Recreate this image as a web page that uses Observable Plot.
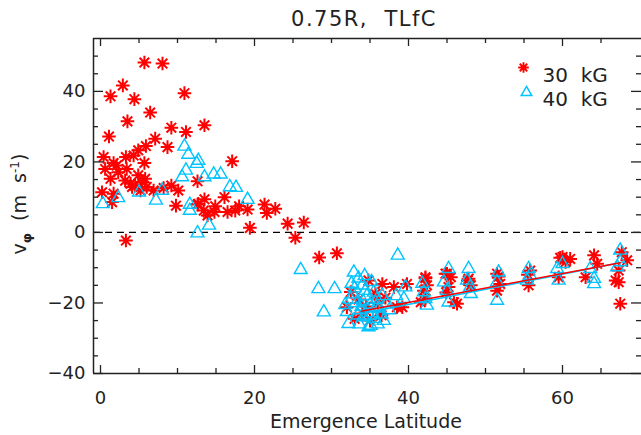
<!DOCTYPE html>
<html><head><meta charset="utf-8">
<script src="https://cdn.jsdelivr.net/npm/d3@7"></script>
<script src="https://cdn.jsdelivr.net/npm/@observablehq/plot@0.6"></script>
<style>
html,body{margin:0;padding:0;background:#fff;overflow:hidden}
svg text{white-space:pre}
</style></head><body><div id="chart"></div>
<script>
// 30 kG (red asterisks): [latitude, v_phi]
const red30 = [
[5.7,48.2],[8.05,47.9],[2.9,41.7],[1.3,38.6],[4.4,37.8],[10.9,39.5],[6.45,34],[3.5,31.5],[1.1,27.2],[9.2,29.7],
[11.1,28.5],[13.5,30.4],[7.1,26.6],[8.7,24.2],[5.9,24.5],[4.9,23.3],[4.3,21.8],[3.3,21.4],[0.4,21.4],[1.7,19.7],
[2.1,19],[5.7,19.7],[0.6,18],[3.4,18],[2.3,17.1],[1.3,15.2],[4.9,16.2],[3.2,14.7],[3.9,13.8],[4.5,13.3],
[5.4,14.3],[5.8,15.2],[6,12.9],[5.2,11.9],[4.1,12.9],[0.2,11.4],[1.7,11],[1.5,8.6],[6.9,11.9],[8.2,12.6],
[9.2,13.3],[10.1,11.9],[9.8,7.6],[12.6,14.5],[12.7,8.1],[3.3,-2.3],
[17.1,20.2],[13.5,9.4],[12.6,7.9],[13.4,6.2],[13.9,4.8],[14.9,7.4],[14.8,5.8],[16.1,10],[16.5,5.8],[17.5,6.2],
[18,7.4],[19.1,6.5],[21.3,7.9],[21.6,5.5],[22.7,6.7],[19.4,1.3],[24.3,2.5],[26.4,2.8],[25.3,-1.5],[28.4,-7.1],[30.7,-5.9],
[34.8,-13.6],[36.6,-14.6],[38.1,-15.5],[32.5,-16.9],[35.7,-17.4],[38.5,-21.2],[32,-21.2],[39.8,-14.6],[33.5,-19],[34,-23],
[36,-20],[35,-25],[33,-24.5],[37,-18.5],[36.5,-23.5],[34.5,-21],[39.2,-21.2],
[42.2,-12.7],[42.4,-15],[42.2,-18.8],[41.6,-19.8],[44.8,-11.7],[45.5,-12.7],[45.2,-15.5],[45.9,-19.8],[46.3,-20.2],[47.8,-13.1],
[48.1,-15],[51.5,-11.7],[51.5,-16.5],[51.9,-14.6],[55.6,-15],[55.8,-10.8],[60,-7],[61,-7.5],[60.4,-8.4],[59.5,-12.7],
[64.1,-6.5],[64.5,-8.9],[63,-12.7],[67.7,-5.6],[68.4,-7.9],[67.3,-10.8],[66.9,-13.6],[67.3,-14.1],[67.5,-20.2],[42.2,-13],
[45,-11.7],[47.7,-13.6],[55.5,-12],[59.7,-7.2],[51.7,-12.5],[44.9,-17],[42,-16.5]
];
// 40 kG (cyan triangles)
const blue40 = [
[10.9,24.4],[11.4,22.1],[12.7,20.4],[12.5,19.5],[11.1,17.6],[10.6,15.7],[5,11.4],[8,11.9],[7.2,9.1],[0.3,8.1],
[2.3,9.8],[11.6,7.9],[11.6,6.2],[12.6,-0.2],[13.5,15.7],[14.7,16.5],[15.6,16.5],[16.8,12.9],[17.6,12.7],[19.1,9.3],
[14.1,2],[26,-10.6],[28.3,-16],[30.4,-16],[29,-22.6],[38.6,-6.5],[32.9,-11.3],
[32.2,-25.9],[35.1,-26.4],[33.5,-13],[34,-15],[32.8,-17.5],[33.2,-20],[32,-22.5],[31.8,-20.5],[33.8,-22],[34.2,-24],
[34.6,-18],[35,-20.5],[35.3,-22.8],[35.6,-24.5],[35.9,-19],[36.2,-21.5],[36.5,-23.2],[36.8,-25],[37.2,-20],[37.5,-22],
[33,-15.8],[34.4,-16.5],[35.2,-14],[33.6,-26],[34.8,-26.8],[36,-26],[34.1,-19.5],[33.4,-23.5],[35.5,-17],[36.6,-18],
[32.5,-19],[34.9,-23.5],[33.9,-21],[35.8,-21.2],[34.3,-12.3],[32.6,-14.5],
[39.6,-15.5],[39.4,-18.8],[42,-16.9],[42.2,-18.8],[42.4,-20.7],[45.2,-10.3],[44.6,-14.1],[45,-16.5],[45.2,-19.8],[47.8,-10.3],
[47.6,-13.6],[48.1,-17.4],[51.7,-11.3],[51.5,-14.1],[51.5,-19.3],[55.6,-10.3],[55.8,-12.2],[55.4,-13.6],[59.5,-13.6],[60,-8.9],
[59.3,-10.3],[63.6,-10.3],[64.1,-13.1],[64.1,-14.6],[67.5,-5.1],[67.5,-8.4],[67.1,-9.8],[38.4,-18],[41.8,-14.5],[48,-15.5]
];
// linear fits (end points)
const fit30 = [[34,-22.3],[67.5,-8.6]];
const fit40 = [[34,-23],[68,-8.4]];

const xDomain = [-0.91, 70.26];
const yDomain = [-40, 55];
const xMajor = [0,20,40,60];
const xMinor = [5,10,15,25,30,35,45,50,55,65];
const yMajor = [-40,-20,0,20,40];
const yMinor = [-35,-30,-25,-15,-10,-5,5,10,15,25,30,35,45,50];
const legendLabels = ["30  kG","40  kG"];

const W = 641, H = 435, mL = 93, mR = 0, mT = 38, mB = 62;
const iW = W - mL - mR, iH = H - mT - mB;
const RED = "#ff0000", CYAN = "#00c3ff", INK = "#222";

const asterisk8 = {
  draw(ctx, size) {
    const r = Math.sqrt(size / Math.PI);
    for (let i = 0; i < 4; i++) {
      const a = i * Math.PI / 4, c = r * Math.cos(a), s = r * Math.sin(a);
      ctx.moveTo(c, s); ctx.lineTo(-c, -s);
    }
  }
};

const tickStyle = {stroke: INK, strokeWidth: 1.3};
const plot = Plot.plot({
  width: W, height: H,
  marginLeft: mL, marginRight: mR, marginTop: mT, marginBottom: mB,
  style: {fontFamily: "DejaVu Sans", background: "#fff", color: INK},
  x: {domain: xDomain},
  y: {domain: yDomain},
  marks: [
    Plot.ruleY([0], {stroke: "#000", strokeWidth: 1.2, strokeDasharray: "7,5"}),
    Plot.dot(red30, {x: d => d[0], y: d => d[1], symbol: asterisk8, r: 6.8, fill: "none", stroke: RED, strokeWidth: 2}),
    Plot.dot(blue40, {x: d => d[0], y: d => d[1], symbol: "triangle", r: 4.8, fill: "none", stroke: CYAN, strokeWidth: 1.4}),
    Plot.line(fit40, {x: d => d[0], y: d => d[1], stroke: CYAN, strokeWidth: 1.6}),
    Plot.line(fit30, {x: d => d[0], y: d => d[1], stroke: RED, strokeWidth: 1.5}),
    // ticks (inward, all four sides)
    Plot.ruleX(xMajor, {x: d => d, insetTop: iH - 8, ...tickStyle}),
    Plot.ruleX(xMinor, {x: d => d, insetTop: iH - 5, ...tickStyle}),
    Plot.ruleX(xMajor, {x: d => d, insetBottom: iH - 8, ...tickStyle}),
    Plot.ruleX(xMinor, {x: d => d, insetBottom: iH - 5, ...tickStyle}),
    Plot.ruleY(yMajor, {y: d => d, insetRight: iW - 10, ...tickStyle}),
    Plot.ruleY(yMinor, {y: d => d, insetRight: iW - 5, ...tickStyle}),
    Plot.ruleY(yMajor, {y: d => d, insetLeft: iW - 10, ...tickStyle}),
    Plot.ruleY(yMinor, {y: d => d, insetLeft: iW - 5, ...tickStyle}),
    // frame (left, top, bottom)
    Plot.ruleX([xDomain[0]], {stroke: INK, strokeWidth: 1.5}),
    Plot.ruleY(yDomain, {stroke: INK, strokeWidth: 1.5}),
    Plot.axisX({ticks: xMajor, tickSize: 0, tickPadding: 18, fontSize: 18, label: null, fill: INK}),
    Plot.axisY({ticks: yMajor, tickSize: 0, tickPadding: 8, fontSize: 18, label: null, fill: INK}),
    // legend
    Plot.dot([0], {frameAnchor: "top-right", dx: -118, dy: 29, symbol: asterisk8, r: 5.3, fill: "none", stroke: RED, strokeWidth: 1.9}),
    Plot.dot([0], {frameAnchor: "top-right", dx: -115, dy: 54, symbol: "triangle", r: 3.9, fill: "none", stroke: CYAN, strokeWidth: 1.5}),
    Plot.text([legendLabels[0]], {text: d => d, frameAnchor: "top-right", dx: -99, dy: 29, textAnchor: "start", fontSize: 20, fill: INK}),
    Plot.text([legendLabels[1]], {text: d => d, frameAnchor: "top-right", dx: -99, dy: 53, textAnchor: "start", fontSize: 20, fill: INK})
  ]
});
document.getElementById("chart").appendChild(plot);

const svg = d3.select(plot);
svg.append("text").attr("x", 364).attr("y", 26).attr("text-anchor", "middle")
  .style("font-family", "DejaVu Sans").style("font-size", "21px").style("letter-spacing", "1.5px").attr("fill", INK)
  .text("0.75R,  TLfC");
svg.append("text").attr("x", 366).attr("y", 428).attr("text-anchor", "middle")
  .style("font-family", "DejaVu Sans").style("font-size", "19px").attr("fill", INK)
  .text("Emergence Latitude");
const yl = svg.append("text").attr("transform", "translate(26,204) rotate(-90)").attr("text-anchor", "middle")
  .style("font-family", "DejaVu Sans").style("font-size", "19px").attr("fill", INK);
yl.append("tspan").text("v");
yl.append("tspan").attr("dy", 5).style("font-size", "13px").style("font-weight", "bold").text("φ");
yl.append("tspan").attr("dy", -5).text("  (m  s");
yl.append("tspan").attr("dy", -7).style("font-size", "12px").text("-1");
yl.append("tspan").attr("dy", 7).text(")");
</script></body></html>
